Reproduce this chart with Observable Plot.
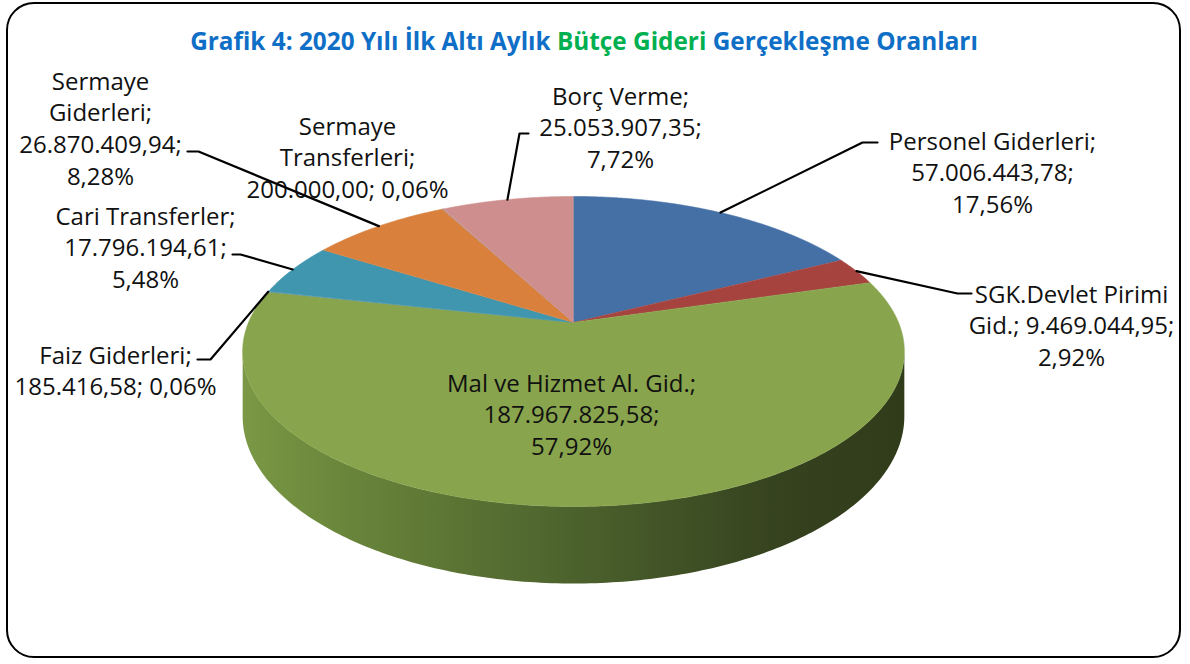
<!DOCTYPE html>
<html><head><meta charset="utf-8">
<script src="https://cdn.jsdelivr.net/npm/d3@7"></script>
<script src="https://cdn.jsdelivr.net/npm/@observablehq/plot@0.6"></script>
<style>
html,body{margin:0;padding:0;background:#fff;}
#wrap{position:relative;width:1190px;height:664px;overflow:hidden;font-family:"Open Sans",sans-serif;}
#border{position:absolute;left:6px;top:2px;width:1175px;height:656px;box-sizing:border-box;border:2.5px solid #000;border-radius:28px;}
#title{position:absolute;left:-11px;width:1190px;text-align:center;font-weight:700;white-space:nowrap;color:#0f6fc6;line-height:1;}
#chart{position:absolute;left:0;top:0;}
</style></head>
<body>
<div id="wrap">
  <div id="border"></div>
  <div id="chart"></div>
  <div id="title"><span id="tin"><span id="t1"></span><span id="t2" style="color:#00b050"></span><span id="t3"></span></span></div>
</div>
<script>
// ---- data ----
const titleParts = ["Grafik 4: 2020 Yılı İlk Altı Aylık ", "Bütçe Gideri", " Gerçekleşme Oranları"];
const categories = ["Personel Giderleri", "SGK.Devlet Pirimi Gid.", "Mal ve Hizmet Al. Gid.", "Faiz Giderleri",
  "Cari Transferler", "Sermaye Giderleri", "Sermaye Transferleri", "Borç Verme"];
const values = [57006443.78, 9469044.95, 187967825.58, 185416.58, 17796194.61, 26870409.94, 200000.00, 25053907.35];
// words per wrapped label line
const lineBreaks = [[2,1,1],[2,2,1],[5,1,1],[2,2],[2,1,1],[1,1,1,1],[1,1,2],[2,1,1]];

// ---- style / layout ----
const colors = ["#4570a6", "#a6433f", "#88a44c", "#7a9a8a", "#3f96ae", "#d8803c", "#b0908a", "#cf8e8e"];
const labelPos = [[992,139],[1071,292],[571,381],[115,353],[145,214],[100,79],[347,124],[620,94]];
const leaderEnds = [[[862,142],[877,142]], [[957,293],[971,293]], null, [[210,359],[197,359]],
  [[240,254],[232,254]], [[198,151],[187,151]], null, [[519,133],[528,133]]];
const FS = 24, LINE = 31.8;

// title
document.getElementById("t1").textContent = titleParts[0];
document.getElementById("t2").textContent = titleParts[1];
document.getElementById("t3").textContent = titleParts[2];
const title = document.getElementById("title");
title.style.fontSize = "22px";
const w0 = document.getElementById("tin").getBoundingClientRect().width;
const tfs = 22 * 788 / w0;
title.style.fontSize = tfs + "px";
title.style.top = (51 - 0.888 * tfs) + "px";

// pie geometry (perspective ellipse)
const CX = 573, CY = 322, A = 325, B = 149.6, K = -0.187, H = 62.6;
function proj(t, depth = 0) {
  const u = Math.sin(t), v = -Math.cos(t), d = 1 + K * v;
  return {x: CX + A * u / d, y: CY + B * v / d + depth / d};
}
const total = d3.sum(values);
const arcs = d3.pie().sort(null).value(d => d)(values);
const tr = d3.formatLocale({decimal: ",", thousands: ".", grouping: [3], currency: ["", ""]});
const fmtNum = tr.format(",.2f"), fmtPct = tr.format(".2f");

const slices = arcs.map((a, i) => {
  const pts = [{x: CX, y: CY}];
  const n = Math.max(2, Math.ceil((a.endAngle - a.startAngle) / 0.004));
  for (let j = 0; j <= n; j++) pts.push(proj(a.startAngle + (a.endAngle - a.startAngle) * j / n));
  return pts;
});

// side wall (front half visible)
const T1 = Math.acos(K), T2 = 2 * Math.PI - Math.acos(K);
const side = [];
for (let j = 0; j <= 200; j++) side.push(proj(T1 + (T2 - T1) * j / 200));
for (let j = 200; j >= 0; j--) side.push(proj(T1 + (T2 - T1) * j / 200, H));

// labels
const labels = categories.map((c, i) => {
  const words = `${c}; ${fmtNum(values[i])}; ${fmtPct(values[i] / total * 100)}%`.split(" ");
  const lines = []; let k = 0;
  for (const cnt of lineBreaks[i]) { lines.push(words.slice(k, k + cnt).join(" ")); k += cnt; }
  return {text: lines.join("\n"), x: labelPos[i][0], y: labelPos[i][1] + (lines.length - 1) * LINE / 2};
});

// leader lines
const leaders = [];
arcs.forEach((a, i) => {
  if (!leaderEnds[i]) return;
  const m = proj((a.startAngle + a.endAngle) / 2);
  leaders.push({id: i, x: m.x, y: m.y});
  leaderEnds[i].forEach(p => leaders.push({id: i, x: p[0], y: p[1]}));
});

const defsMark = () => {
  const ns = "http://www.w3.org/2000/svg";
  const g = document.createElementNS(ns, "g");
  const defs = document.createElementNS(ns, "defs");
  const lg = document.createElementNS(ns, "linearGradient");
  lg.setAttribute("id", "sideGrad");
  lg.setAttribute("x1", "0"); lg.setAttribute("x2", "1"); lg.setAttribute("y1", "0"); lg.setAttribute("y2", "0");
  [[0, "#7a9845"], [0.15, "#6a863b"], [0.5, "#4c622d"], [0.8, "#36431f"], [1, "#303b1a"]].forEach(([o, c]) => {
    const s = document.createElementNS(ns, "stop");
    s.setAttribute("offset", o); s.setAttribute("stop-color", c);
    lg.appendChild(s);
  });
  defs.appendChild(lg); g.appendChild(defs);
  return g;
};

const chart = Plot.plot({
  width: 1190, height: 664, margin: 0,
  x: {domain: [0, 1190], range: [0, 1190], axis: null},
  y: {domain: [0, 664], range: [0, 664], axis: null},
  style: {background: "transparent", overflow: "visible"},
  marks: [
    defsMark,
    Plot.line(side, {x: "x", y: "y", fill: "url(#sideGrad)", stroke: "none"}),
    ...slices.map((pts, i) => Plot.line(pts, {x: "x", y: "y", fill: colors[i], stroke: colors[i], strokeWidth: 0.6})),
    Plot.text(labels, {x: "x", y: "y", text: "text", fontSize: FS, lineHeight: LINE / FS, textAnchor: "middle",
      lineAnchor: "middle", fill: "#111", fontFamily: "Open Sans"}),
    Plot.line(leaders, {x: "x", y: "y", z: "id", stroke: "#000", strokeWidth: 2.2})
  ]
});
document.getElementById("chart").appendChild(chart);
</script>
</body></html>
